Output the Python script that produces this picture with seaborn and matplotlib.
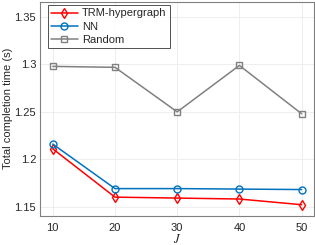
import pandas as pd
import seaborn as sns
import matplotlib
matplotlib.use("Agg")
import matplotlib.pyplot as plt

J = [10, 20, 30, 40, 50]
trm = [1.211, 1.160, 1.159, 1.158, 1.152]
nn = [1.216, 1.169, 1.169, 1.1685, 1.168]
rnd = [1.298, 1.297, 1.250, 1.299, 1.248]
labels = ["TRM-hypergraph", "NN", "Random"]

df = pd.DataFrame({"J": J * 3,
                   "time": trm + nn + rnd,
                   "method": [labels[0]] * 5 + [labels[1]] * 5 + [labels[2]] * 5})

sns.set_style("whitegrid")
plt.rcParams["font.family"] = ["Liberation Sans", "DejaVu Sans"]
plt.rcParams["mathtext.fontset"] = "stix"

fig, ax = plt.subplots(figsize=(3.15, 2.45), dpi=100)
palette = {"TRM-hypergraph": "#ff0000", "NN": "#0072bd", "Random": "#808080"}
markers = {"TRM-hypergraph": "d", "NN": "o", "Random": "s"}
for m in labels:
    sub = df[df["method"] == m]
    sns.lineplot(data=sub, x="J", y="time", ax=ax, color=palette[m], marker=markers[m],
                 markersize=5, markerfacecolor="none", markeredgecolor=palette[m],
                 markeredgewidth=1.0, linewidth=1.1, label=m)

ax.set_xlim(8, 52)
ax.set_ylim(1.1405, 1.366)
ax.set_xticks(J)
ax.set_yticks([1.15, 1.2, 1.25, 1.3, 1.35])
ax.set_yticklabels(["1.15", "1.2", "1.25", "1.3", "1.35"])
ax.tick_params(labelsize=8, colors="#262626", length=0)
ax.tick_params(axis="x", pad=5)
ax.tick_params(axis="y", pad=3)
ax.set_xlabel("$J$", fontsize=9, labelpad=0)
ax.set_ylabel("Total completion time (s)", fontsize=8, labelpad=1)
ax.grid(True, color="#ebebeb", linewidth=0.6)
for s in ax.spines.values():
    s.set_color("#808080")
    s.set_linewidth(0.8)
leg = ax.legend(loc="upper left", fontsize=8, frameon=True, fancybox=False,
                borderpad=0.3, labelspacing=0.3, handlelength=2.4, handletextpad=0.4,
                borderaxespad=0, bbox_to_anchor=(0.027, 0.985))
leg.get_frame().set_edgecolor("#262626")
leg.get_frame().set_linewidth(0.7)

fig.subplots_adjust(left=0.128, right=0.997, top=0.992, bottom=0.12)
fig.savefig("out.png", dpi=100)
